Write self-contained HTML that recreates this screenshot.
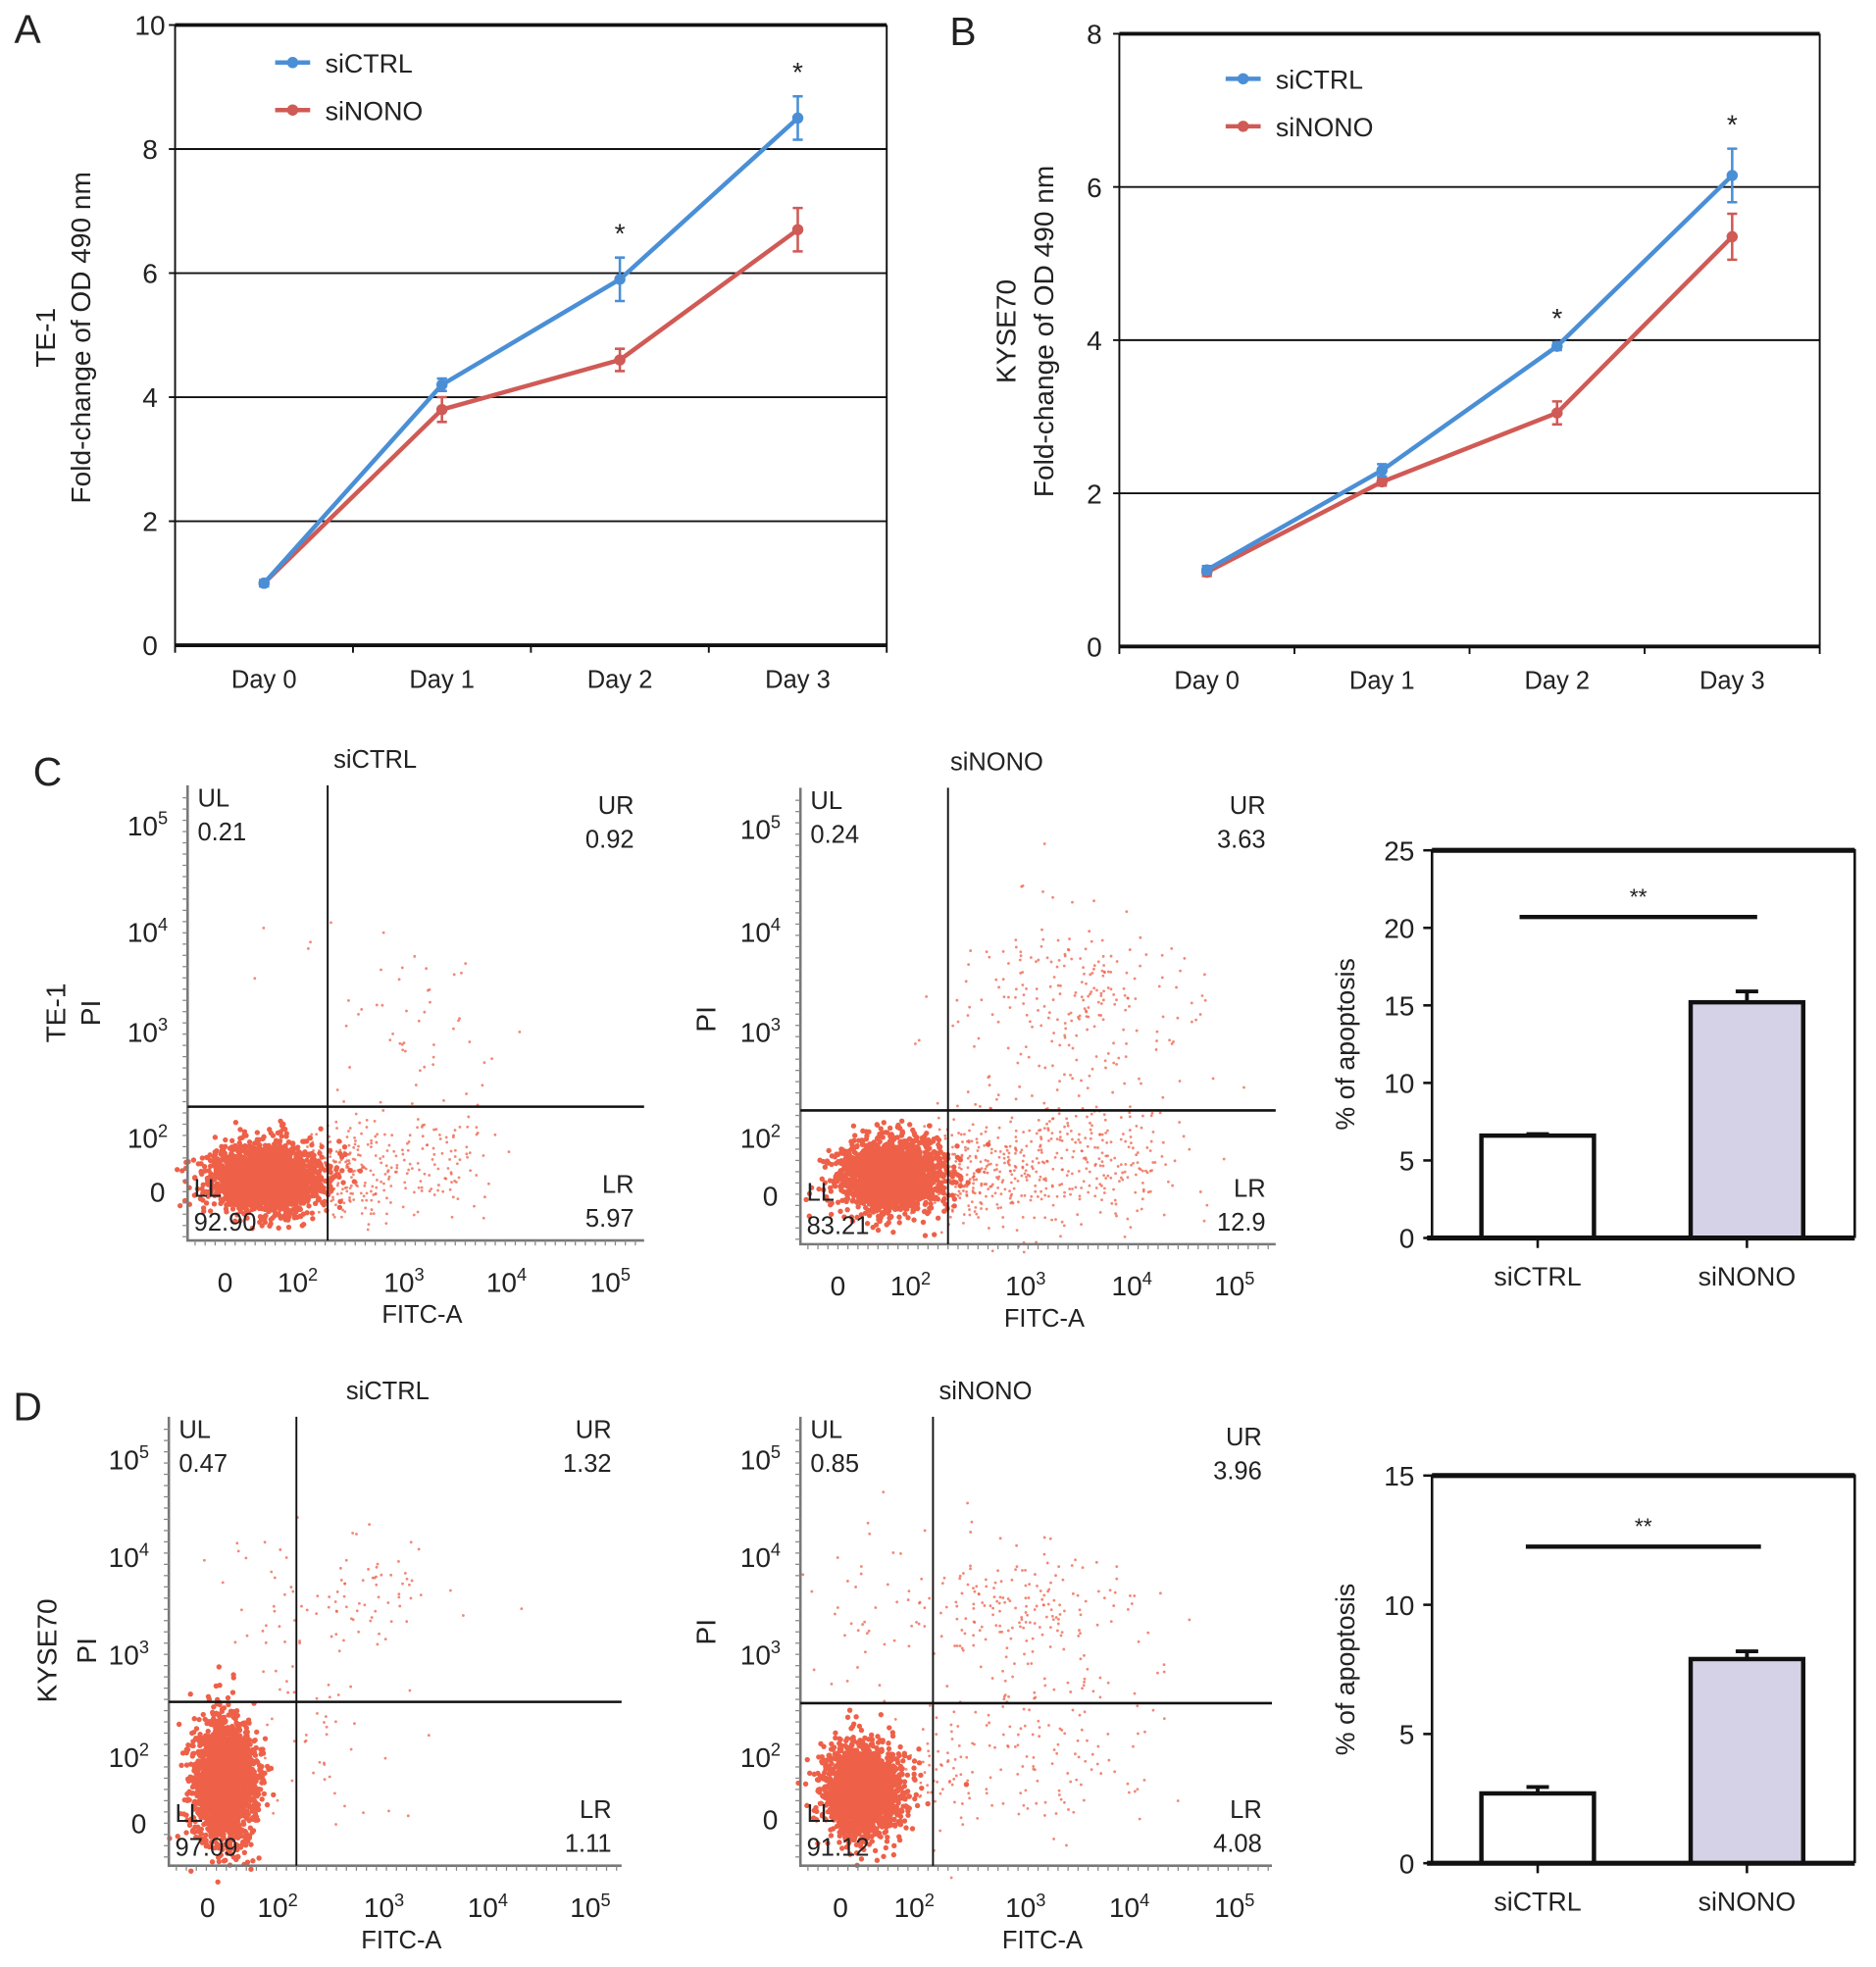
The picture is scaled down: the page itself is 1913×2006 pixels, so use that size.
<!DOCTYPE html>
<html><head><meta charset="utf-8"><title>Figure</title>
<style>
html,body{margin:0;padding:0;background:#fff;}
svg{display:block;font-family:"Liberation Sans",Arial,sans-serif;}
</style></head>
<body>
<svg id="fig" width="1913" height="2006" viewBox="0 0 1500 1573" preserveAspectRatio="none" xmlns="http://www.w3.org/2000/svg">
<g id="root"></g>
</svg>
<script>
// ---- Panel A data ----
const daysA = ["Day 0","Day 1","Day 2","Day 3"];
const ctrlA = [1, 4.2, 5.9, 8.5];
const ctrlAErr = [0.05, 0.1, 0.35, 0.35];
const nonoA = [1, 3.8, 4.6, 6.7];
const nonoAErr = [0.05, 0.2, 0.18, 0.35];
const ticksA = [0,2,4,6,8,10];
const starsA = ["", "", "*", "*"];
// ---- Panel B data ----
const daysB = ["Day 0","Day 1","Day 2","Day 3"];
const ctrlB = [1, 2.3, 3.92, 6.15];
const ctrlBErr = [0.05, 0.08, 0.05, 0.35];
const nonoB = [0.97, 2.15, 3.05, 5.35];
const nonoBErr = [0.05, 0.05, 0.15, 0.3];
const ticksB = [0,2,4,6,8];
const starsB = ["", "", "*", "*"];
// ---- Bar data ----
const barCats = ["siCTRL","siNONO"];
const barC = [6.6, 15.2];
const barCErr = [0.1, 0.7];
const ticksBarC = [0,5,10,15,20,25];
const barD = [2.7, 7.9];
const barDErr = [0.25, 0.3];
const ticksBarD = [0,5,10,15];
// ---- Flow quadrant values ----
const quadC1 = ["0.21","0.92","92.90","5.97"];
const quadC2 = ["0.24","3.63","83.21","12.9"];
const quadD1 = ["0.47","1.32","97.09","1.11"];
const quadD2 = ["0.85","3.96","91.12","4.08"];

const NS="http://www.w3.org/2000/svg";
const root=document.getElementById('root');
function el(tag,attrs,parent,text){
  const e=document.createElementNS(NS,tag);
  for(const k in attrs) e.setAttribute(k,attrs[k]);
  if(text!==undefined) e.textContent=text;
  (parent||root).appendChild(e);
  return e;
}
function txt(x,y,s,size,parent,anchor,name,extra){
  const t=el('text',Object.assign({x:x,y:y,'font-size':size,'text-anchor':anchor||'middle',fill:'#222'},extra||{}),parent,s);
  
  
  return t;
}
function sup(x,y,base,exp,size,parent,name){
  const t=el('text',{x:x,y:y,'font-size':size,'text-anchor':'middle',fill:'#222'},parent);
  
  
  el('tspan',{},t,base);
  el('tspan',{dy:-size*0.4,'font-size':size*0.65},t,exp);
  return t;
}

// ---------- Line chart ----------
function lineChart(o){
  const g=el('g',{});
  
  
  const y=v=>o.bottom-(v-o.ymin)/(o.ymax-o.ymin)*(o.bottom-o.top);
  const band=(o.right-o.left)/o.cats.length;
  const x=i=>o.left+band*(i+0.5);
  o.ticks.forEach(t=>{
    if(t===o.ymin) return;
    const l=el('line',{x1:o.left,x2:o.right,y1:y(t),y2:y(t),stroke:'#111','stroke-width':t===o.ymax?3:1.5},g);
    
    
    const tk=el('line',{x1:o.left-5,x2:o.left,y1:y(t),y2:y(t),stroke:'#111','stroke-width':1.5},g);
    
    
    txt(o.left-20,y(t)+8,String(t),22,g,'middle','y-tick-label');
  });
  txt(o.left-20,y(o.ymin)+8,String(o.ymin),22,g,'middle','y-tick-label');
  const ax=el('line',{x1:o.left,x2:o.left,y1:o.top,y2:o.bottom,stroke:'#111','stroke-width':1.5},g);
  
  const rb=el('line',{x1:o.right,x2:o.right,y1:o.top,y2:o.bottom,stroke:'#111','stroke-width':1.5},g);
  
  const xa=el('line',{x1:o.left,x2:o.right,y1:o.bottom,y2:o.bottom,stroke:'#111','stroke-width':3},g);
  
  for(let i=0;i<=o.cats.length;i++){
    const t=el('line',{x1:o.left+band*i,x2:o.left+band*i,y1:o.bottom,y2:o.bottom+6,stroke:'#111','stroke-width':1.5},g);
    
  }
  o.cats.forEach((c,i)=>txt(x(i),o.bottom+34,c,20,g,'middle','x-tick-label'));
  function series(vals,errs,color,name){
    const sg=el('g',{},g);
    
    
    const pts=vals.map((v,i)=>x(i)+','+y(v)).join(' ');
    const pl=el('polyline',{points:pts,fill:'none',stroke:color,'stroke-width':3.5},sg);
    
    vals.forEach((v,i)=>{
      const e=el('path',{d:`M${x(i)},${y(v-errs[i])}V${y(v+errs[i])}M${x(i)-4},${y(v-errs[i])}h8M${x(i)-4},${y(v+errs[i])}h8`,stroke:color,'stroke-width':2,fill:'none'},sg);
      
      const c=el('circle',{cx:x(i),cy:y(v),r:4.5,fill:color},sg);
      
    });
  }
  series(o.s2,o.s2e,'#d05a55','sinono-series');
  series(o.s1,o.s1e,'#4a8fd6','sictrl-series');
  o.stars.forEach((s,i)=>{ if(s) txt(x(i),y(o.s1[i]+o.s1e[i])-12,s,22,g,'middle','significance-star'); });
  [[o.s1name,'#4a8fd6',o.legY],[o.s2name,'#d05a55',o.legY+38]].forEach(([n,c,ly])=>{
    const lg=el('g',{},g);
    
    el('line',{x1:o.legX,x2:o.legX+28,y1:ly,y2:ly,stroke:c,'stroke-width':3.5},lg);
    el('circle',{cx:o.legX+14,cy:ly,r:4.5,fill:c},lg);
    txt(o.legX+40,ly+8,n,21,lg,'start','legend-label');
  });
  txt(0,0,o.t1,22,g,'middle','y-axis-title',{transform:`translate(${o.tx1},${o.ty}) rotate(-90)`});
  txt(0,0,o.t2,22,g,'middle','y-axis-title',{transform:`translate(${o.tx2},${o.ty}) rotate(-90)`});
}
txt(22,34,"A",32,root,'middle','panel-label-a');
lineChart({name:'panel-a-chart',left:140,right:709,top:20,bottom:516,ymin:0,ymax:10,ticks:ticksA,cats:daysA,
  s1:ctrlA,s1e:ctrlAErr,s2:nonoA,s2e:nonoAErr,stars:starsA,s1name:'siCTRL',s2name:'siNONO',legX:220,legY:50,
  t1:'TE-1',t2:'Fold-change of OD 490 nm',tx1:44,tx2:72,ty:270});
txt(770,36,"B",32,root,'middle','panel-label-b');
lineChart({name:'panel-b-chart',left:895,right:1455,top:27,bottom:517,ymin:0,ymax:8,ticks:ticksB,cats:daysB,
  s1:ctrlB,s1e:ctrlBErr,s2:nonoB,s2e:nonoBErr,stars:starsB,s1name:'siCTRL',s2name:'siNONO',legX:980,legY:63,
  t1:'KYSE70',t2:'Fold-change of OD 490 nm',tx1:812,tx2:842,ty:265});

// ---------- Flow plots ----------
let seed=12345;
function rnd(){seed|=0;seed=seed+0x6D2B79F5|0;let t=Math.imul(seed^seed>>>15,1|seed);t=t+Math.imul(t^t>>>7,61|t)^t;return((t^t>>>14)>>>0)/4294967296;}
function gauss(){let u=rnd()||1e-6,v=rnd();return Math.sqrt(-2*Math.log(u))*Math.cos(2*Math.PI*v);}
function flow(o){
  const g=el('g',{});
  
  const dots=el('g',{fill:'#ee6048'},g);
  
  for(let i=0;i<o.blobN;i++){
    const cx=o.blob[0]+gauss()*o.blob[2], cy=o.blob[1]+gauss()*o.blob[3];
    el('circle',{cx:cx.toFixed(1),cy:cy.toFixed(1),r:2.1},dots);
  }
  const sp=el('g',{fill:'#ee6048','fill-opacity':0.75},g);
  
  o.sparse.forEach(s=>{
    for(let i=0;i<s[4];i++){
      const cx=(s[0]+s[2])/2+gauss()*(s[2]-s[0])/3.2, cy=(s[1]+s[3])/2+gauss()*(s[3]-s[1])/3.2;
      el('circle',{cx:cx.toFixed(1),cy:cy.toFixed(1),r:1.1},sp);
    }
  });
  const a=el('path',{d:`M${o.l},${o.t}V${o.b}H${o.r}`,fill:'none',stroke:'#777','stroke-width':2},g);
  
  for(let yy=o.t+10;yy<o.b;yy+=9){el('line',{x1:o.l-4,x2:o.l,y1:yy,y2:yy,stroke:'#888','stroke-width':1},g);}
  for(let xx=o.l+6;xx<o.r;xx+=8){el('line',{x1:xx,x2:xx,y1:o.b,y2:o.b+4,stroke:'#888','stroke-width':1},g);}
  const gv=el('line',{x1:o.gx,x2:o.gx,y1:o.t,y2:o.b,stroke:'#111','stroke-width':1.5},g);
  
  const gh=el('line',{x1:o.l,x2:o.r,y1:o.gy,y2:o.gy,stroke:'#111','stroke-width':2},g);
  
  const exps=['5','4','3','2'];
  o.yl.forEach((yy,i)=>{ if(i<4) sup(o.l-32,yy+8,'10',exps[i],22,g,'y-tick-label'); else txt(o.l-24,yy+8,'0',22,g,'middle','y-tick-label'); });
  txt(o.xl[0],o.b+41,'0',22,g,'middle','x-tick-label');
  ['2','3','4','5'].forEach((e,i)=>sup(o.xl[i+1],o.b+41,'10',e,22,g,'x-tick-label'));
  txt((o.l+o.r)/2+5,o.b+66,'FITC-A',20,g,'middle','x-axis-title');
  txt(o.titleX,o.t-14,o.title,20,g,'middle','plot-title');
  const q=o.q;
  txt(o.l+8,o.t+17,'UL',20,g,'start','quadrant-label');
  txt(o.l+8,o.t+44,q[0],20,g,'start','quadrant-value');
  txt(o.r-8,o.urY,'UR',20,g,'end','quadrant-label');
  txt(o.r-8,o.urY+27,q[1],20,g,'end','quadrant-value');
  txt(o.l+5,o.b-35,'LL',20,g,'start','quadrant-label');
  txt(o.l+5,o.b-8,q[2],20,g,'start','quadrant-value');
  txt(o.r-8,o.b-38,'LR',20,g,'end','quadrant-label');
  txt(o.r-8,o.b-11,q[3],20,g,'end','quadrant-value');
}
txt(38,628,"C",32,root,'middle','panel-label-c');
flow({name:'flow-c-sictrl',l:150,r:515,t:628,b:992,gx:262,gy:885,q:quadC1,title:'siCTRL',titleX:300,urY:651,
  yl:[660,745,825,910,953],xl:[180,238,323,405,488],
  blob:[212,942,22,13],blobN:2600,
  sparse:[[250,905,310,970,180],[310,895,390,955,110],[280,790,390,880,40],[220,700,400,790,12]]});
flow({name:'flow-c-sinono',l:640,r:1020,t:630,b:995,gx:758,gy:888,q:quadC2,title:'siNONO',titleX:797,urY:651,
  yl:[663,745,825,910,956],xl:[670,728,820,905,987],
  blob:[712,940,20,14],blobN:2300,
  sparse:[[740,895,830,975,280],[820,890,930,970,230],[770,740,940,880,180],[830,750,930,830,60]]});
el('text',{x:0,y:0,'font-size':22,'text-anchor':'middle',fill:'#222',transform:'translate(52,810) rotate(-90)'},root,'TE-1');
el('text',{x:0,y:0,'font-size':22,'text-anchor':'middle',fill:'#222',transform:'translate(80,810) rotate(-90)'},root,'PI');
el('text',{x:0,y:0,'font-size':22,'text-anchor':'middle',fill:'#222',transform:'translate(572,815) rotate(-90)'},root,'PI');

txt(22,1136,"D",32,root,'middle','panel-label-d');
flow({name:'flow-d-sictrl',l:135,r:497,t:1133,b:1492,gx:237,gy:1361,q:quadD1,title:'siCTRL',titleX:310,urY:1150,
  yl:[1167,1245,1323,1405,1458],xl:[166,222,307,390,472],
  blob:[180,1425,12,24],blobN:2400,
  sparse:[[230,1240,370,1310,70],[200,1320,310,1460,50],[160,1200,240,1340,20]]});
flow({name:'flow-d-sinono',l:640,r:1017,t:1133,b:1492,gx:746,gy:1362,q:quadD2,title:'siNONO',titleX:788,urY:1156,
  yl:[1167,1245,1323,1405,1455],xl:[672,731,820,903,987],
  blob:[690,1432,15,18],blobN:2200,
  sparse:[[750,1240,900,1330,170],[760,1330,900,1450,150],[650,1230,740,1350,40],[720,1380,780,1460,50]]});
el('text',{x:0,y:0,'font-size':22,'text-anchor':'middle',fill:'#222',transform:'translate(45,1320) rotate(-90)'},root,'KYSE70');
el('text',{x:0,y:0,'font-size':22,'text-anchor':'middle',fill:'#222',transform:'translate(77,1320) rotate(-90)'},root,'PI');
el('text',{x:0,y:0,'font-size':22,'text-anchor':'middle',fill:'#222',transform:'translate(572,1305) rotate(-90)'},root,'PI');

// ---------- Bar charts ----------
function barChart(o){
  const g=el('g',{});
  
  const y=v=>o.b-v/o.ymax*(o.b-o.t);
  const centers=[o.l+(o.r-o.l)*0.25,o.l+(o.r-o.l)*0.745];
  const bw=90;
  o.vals.forEach((v,i)=>{
    const cx=centers[i];
    const e=el('path',{d:`M${cx},${y(v)}V${y(v+o.errs[i])}M${cx-9},${y(v+o.errs[i])}h18`,stroke:'#111','stroke-width':3,fill:'none'},g);
    
    const r=el('rect',{x:cx-bw/2,y:y(v),width:bw,height:o.b-y(v),fill:i===0?'#fff':'#d5d2e8',stroke:'#111','stroke-width':3.5},g);
    
    const tk=el('line',{x1:cx,x2:cx,y1:o.b,y2:o.b+8,stroke:'#111','stroke-width':2},g);
    
    txt(cx,o.b+38,o.cats[i],21,g,'middle','x-tick-label');
  });
  const bx=el('path',{d:`M${o.l},${o.b}V${o.t}H${o.r}V${o.b}`,fill:'none',stroke:'#111','stroke-width':2},g);
  
  el('line',{x1:o.l,x2:o.r,y1:o.t,y2:o.t,stroke:'#111','stroke-width':4},g);
  const xa=el('line',{x1:o.l-4,x2:o.r,y1:o.b,y2:o.b,stroke:'#111','stroke-width':4},g);
  
  o.ticks.forEach(t=>{
    el('line',{x1:o.l-7,x2:o.l,y1:y(t),y2:y(t),stroke:'#111','stroke-width':2},g);
    txt(o.l-14,y(t)+8,String(t),22,g,'end','y-tick-label');
  });
  const sl=el('line',{x1:o.sig[0],x2:o.sig[1],y1:y(o.sig[2]),y2:y(o.sig[2]),stroke:'#111','stroke-width':3.5},g);
  
  txt((o.sig[0]+o.sig[1])/2,y(o.sig[2])-10,'**',18,g,'middle','significance-stars');
  txt(0,0,'% of apoptosis',21,g,'middle','y-axis-title',{transform:`translate(${o.l-62},${(o.t+o.b)/2}) rotate(-90)`});
}
barChart({name:'bar-chart-c',l:1145,r:1483,t:680,b:990,ymax:25,ticks:ticksBarC,cats:barCats,vals:barC,errs:barCErr,sig:[1215,1405,20.7]});
barChart({name:'bar-chart-d',l:1145,r:1483,t:1180,b:1490,ymax:15,ticks:ticksBarD,cats:barCats,vals:barD,errs:barDErr,sig:[1220,1408,12.25]});
</script>
</body></html>
